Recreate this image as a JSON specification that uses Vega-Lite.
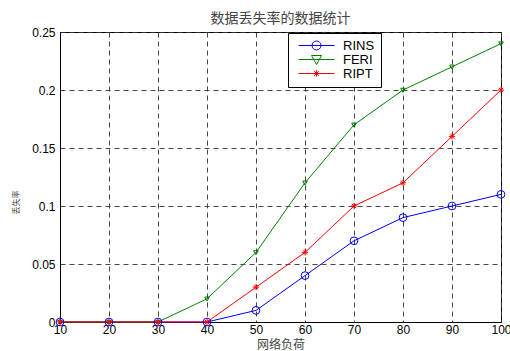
{
  "$schema": "https://vega.github.io/schema/vega-lite/v6.json",
  "width": 441,
  "height": 290,
  "autosize": "none",
  "padding": {"left": 60, "top": 32, "right": 9, "bottom": 29},
  "background": "white",
  "title": {
    "text": "数据丢失率的数据统计",
    "font": "Noto Sans CJK SC",
    "fontSize": 14,
    "fontWeight": "normal",
    "color": "#444444",
    "anchor": "middle",
    "offset": 0
  },
  "config": {
    "view": {"stroke": "#000000", "strokeWidth": 1},
    "axis": {
      "labelFont": "Liberation Sans",
      "labelFontSize": 12,
      "labelColor": "#000000",
      "labelFlush": false,
      "domainColor": "#000000",
      "ticks": false,
      "gridColor": "#333333",
      "gridDash": [5, 4],
      "gridOpacity": 0.9,
      "titleFont": "Noto Sans CJK SC",
      "titleFontWeight": "normal",
      "titleColor": "#444444"
    }
  },
  "data": {
    "values": [
      {"x": 10, "y": 0, "s": "RINS"}, {"x": 20, "y": 0, "s": "RINS"}, {"x": 30, "y": 0, "s": "RINS"}, {"x": 40, "y": 0, "s": "RINS"}, {"x": 50, "y": 0.01, "s": "RINS"},
      {"x": 60, "y": 0.04, "s": "RINS"}, {"x": 70, "y": 0.07, "s": "RINS"}, {"x": 80, "y": 0.09, "s": "RINS"}, {"x": 90, "y": 0.1, "s": "RINS"}, {"x": 100, "y": 0.11, "s": "RINS"},
      {"x": 10, "y": 0, "s": "FERI"}, {"x": 20, "y": 0, "s": "FERI"}, {"x": 30, "y": 0, "s": "FERI"}, {"x": 40, "y": 0.02, "s": "FERI"}, {"x": 50, "y": 0.06, "s": "FERI"},
      {"x": 60, "y": 0.12, "s": "FERI"}, {"x": 70, "y": 0.17, "s": "FERI"}, {"x": 80, "y": 0.2, "s": "FERI"}, {"x": 90, "y": 0.22, "s": "FERI"}, {"x": 100, "y": 0.24, "s": "FERI"},
      {"x": 10, "y": 0, "s": "RIPT"}, {"x": 20, "y": 0, "s": "RIPT"}, {"x": 30, "y": 0, "s": "RIPT"}, {"x": 40, "y": 0, "s": "RIPT"}, {"x": 50, "y": 0.03, "s": "RIPT"},
      {"x": 60, "y": 0.06, "s": "RIPT"}, {"x": 70, "y": 0.1, "s": "RIPT"}, {"x": 80, "y": 0.12, "s": "RIPT"}, {"x": 90, "y": 0.16, "s": "RIPT"}, {"x": 100, "y": 0.2, "s": "RIPT"}
    ]
  },
  "encoding": {
    "x": {
      "field": "x", "type": "quantitative",
      "scale": {"domain": [10, 100], "nice": false, "zero": false},
      "axis": {"values": [10, 20, 30, 40, 50, 60, 70, 80, 90, 100], "labelPadding": 2, "title": "网络负荷", "titleFontSize": 12, "titleY": 17, "titleBaseline": "top"}
    },
    "y": {
      "field": "y", "type": "quantitative",
      "scale": {"domain": [0, 0.25], "nice": false},
      "axis": {"values": [0, 0.05, 0.1, 0.15, 0.2, 0.25], "format": "~g", "labelPadding": 5, "title": "丢失率", "titleFontSize": 8, "titleX": -44, "titleY": 170, "titleAngle": -90, "titleAlign": "center", "titleBaseline": "middle"}
    },
    "color": {
      "field": "s", "type": "nominal",
      "scale": {"domain": ["RINS", "FERI", "RIPT"], "range": ["#0000ff", "#008000", "#ff0000"]},
      "legend": {
        "title": null,
        "orient": "none",
        "legendX": 228,
        "legendY": 1,
        "strokeColor": "#000000",
        "fillColor": "#ffffff",
        "padding": 6,
        "symbolSize": 100,
        "symbolOffset": 16,
        "symbolStrokeWidth": 1,
        "symbolOpacity": 1,
        "symbolFillColor": "transparent",
        "labelFont": "Liberation Sans",
        "labelFontSize": 13,
        "labelColor": "#000000",
        "labelOffset": 20,
        "rowPadding": 0
      }
    }
  },
  "layer": [
    {"mark": {"type": "line", "strokeWidth": 1}},
    {
      "mark": {"type": "point", "filled": false, "opacity": 0},
      "encoding": {
        "shape": {
          "field": "s", "type": "nominal",
          "scale": {"domain": ["RINS", "FERI", "RIPT"], "range": ["M-3.6,0H3.6M-0.9,0A0.9,0.9 0 1,0 0.9,0A0.9,0.9 0 1,0 -0.9,0", "M-3.6,0H3.6M-1,-0.8L1,-0.8L0,1Z", "M-3.6,0H3.6M0,-0.65V0.65M-0.46,-0.46L0.46,0.46M-0.46,0.46L0.46,-0.46"]},
          "legend": null
        }
      }
    },
    {
      "transform": [{"filter": "datum.s === 'RINS'"}],
      "mark": {"type": "point", "shape": "circle", "filled": false, "strokeWidth": 1, "opacity": 1, "size": 60}
    },
    {
      "transform": [{"filter": "datum.s === 'FERI'"}],
      "mark": {"type": "point", "shape": "M-0.6,-0.45L0.6,-0.45L0,0.6Z", "filled": false, "strokeWidth": 1, "opacity": 1, "size": 60}
    },
    {
      "transform": [{"filter": "datum.s === 'RIPT'"}],
      "mark": {"type": "point", "shape": "M-0.8,0H0.8M0,-0.8V0.8M-0.56,-0.56L0.56,0.56M-0.56,0.56L0.56,-0.56", "filled": false, "strokeWidth": 1, "opacity": 1, "size": 60}
    }
  ]
}
